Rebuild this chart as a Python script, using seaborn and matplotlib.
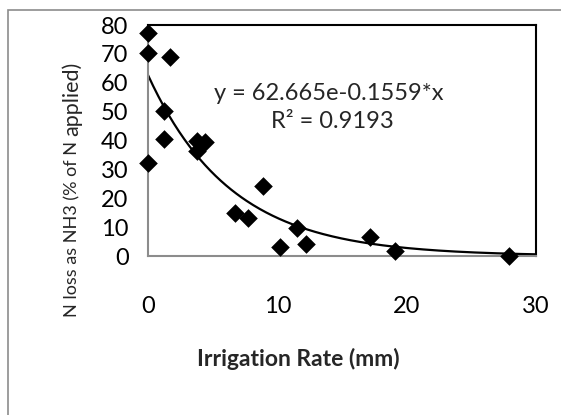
import numpy as np
import pandas as pd
import matplotlib
matplotlib.use("Agg")
import matplotlib.pyplot as plt
import seaborn as sns
from matplotlib.patches import Rectangle

irrigation_mm = [0, 0, 1.7, 1.2, 1.2, 0, 3.8, 4.4, 3.8, 8.9, 6.7, 7.7, 10.2, 11.5, 12.2, 17.2, 19.1, 27.9]
n_loss_pct = [77.2, 70.3, 69.0, 50.2, 40.5, 32.3, 39.9, 39.5, 36.4, 24.2, 14.9, 13.2, 3.1, 9.7, 4.2, 6.6, 1.7, 0.0]
fit_a = 62.665
fit_k = 0.1559
x_ticks = [0, 10, 20, 30]
y_ticks = [0, 10, 20, 30, 40, 50, 60, 70, 80]

sns.set_theme(style="white")
plt.rcParams['font.family'] = ['Lato', 'DejaVu Sans']

df = pd.DataFrame({"x": irrigation_mm, "y": n_loss_pct})

W, H = 561, 415
fig = plt.figure(figsize=(W / 100, H / 100), dpi=100)
ax = fig.add_axes([148 / W, 1 - 256 / H, (536 - 148) / W, (256 - 25) / H])

# outer chart border
fig.patches.append(Rectangle((8 / W, -0.1), 1.2, (1 - 10 / H) + 0.1, transform=fig.transFigure,
                             fill=False, edgecolor="#8c8c8c", linewidth=1.2))

xs = np.linspace(0, 30, 300)
ax.plot(xs, fit_a * np.exp(-fit_k * xs), color="black", linewidth=1.6, zorder=2)
sns.scatterplot(data=df, x="x", y="y", marker="D", s=90, color="black", edgecolor="black",
                linewidth=0, ax=ax, zorder=3, clip_on=False)

ax.set_xlim(0, 30)
ax.set_ylim(0, 80)
ax.set_xticks(x_ticks)
ax.set_yticks(y_ticks)
ax.tick_params(axis="both", width=1.5, color="#8c8c8c", labelsize=17, labelcolor="black")
ax.tick_params(axis="x", direction="out", length=6, pad=23)
ax.tick_params(axis="y", direction="inout", length=12, pad=8)
for s in ["left", "bottom"]:
    ax.spines[s].set_color("#8c8c8c")
    ax.spines[s].set_linewidth(1.5)
for s in ["top", "right"]:
    ax.spines[s].set_color("black")
    ax.spines[s].set_linewidth(1.5)
ax.set_xlabel("")
ax.set_ylabel("")
fig.text(298 / W, 1 - 359 / H, "Irrigation Rate (mm)", ha="center", va="center",
         fontsize=16.5, fontweight="bold")

fig.text(329 / W, 1 - 93 / H, "y = 62.665e-0.1559*x", ha="center", va="center", fontsize=17)
fig.text(332 / W, 1 - 121 / H, "R² = 0.9193", ha="center", va="center", fontsize=17)

# y label with mixed sizes
t1 = fig.text(72 / W, 1 - 317 / H, "N loss as NH3 (% of N ", rotation=90, ha="center",
              va="bottom", fontsize=13)
fig.canvas.draw()
bb = t1.get_window_extent(renderer=fig.canvas.get_renderer())
fig.text(72 / W, bb.y1 / H, "applied)", rotation=90, ha="center", va="bottom", fontsize=15.5)

fig.savefig("out.png", dpi=100)
